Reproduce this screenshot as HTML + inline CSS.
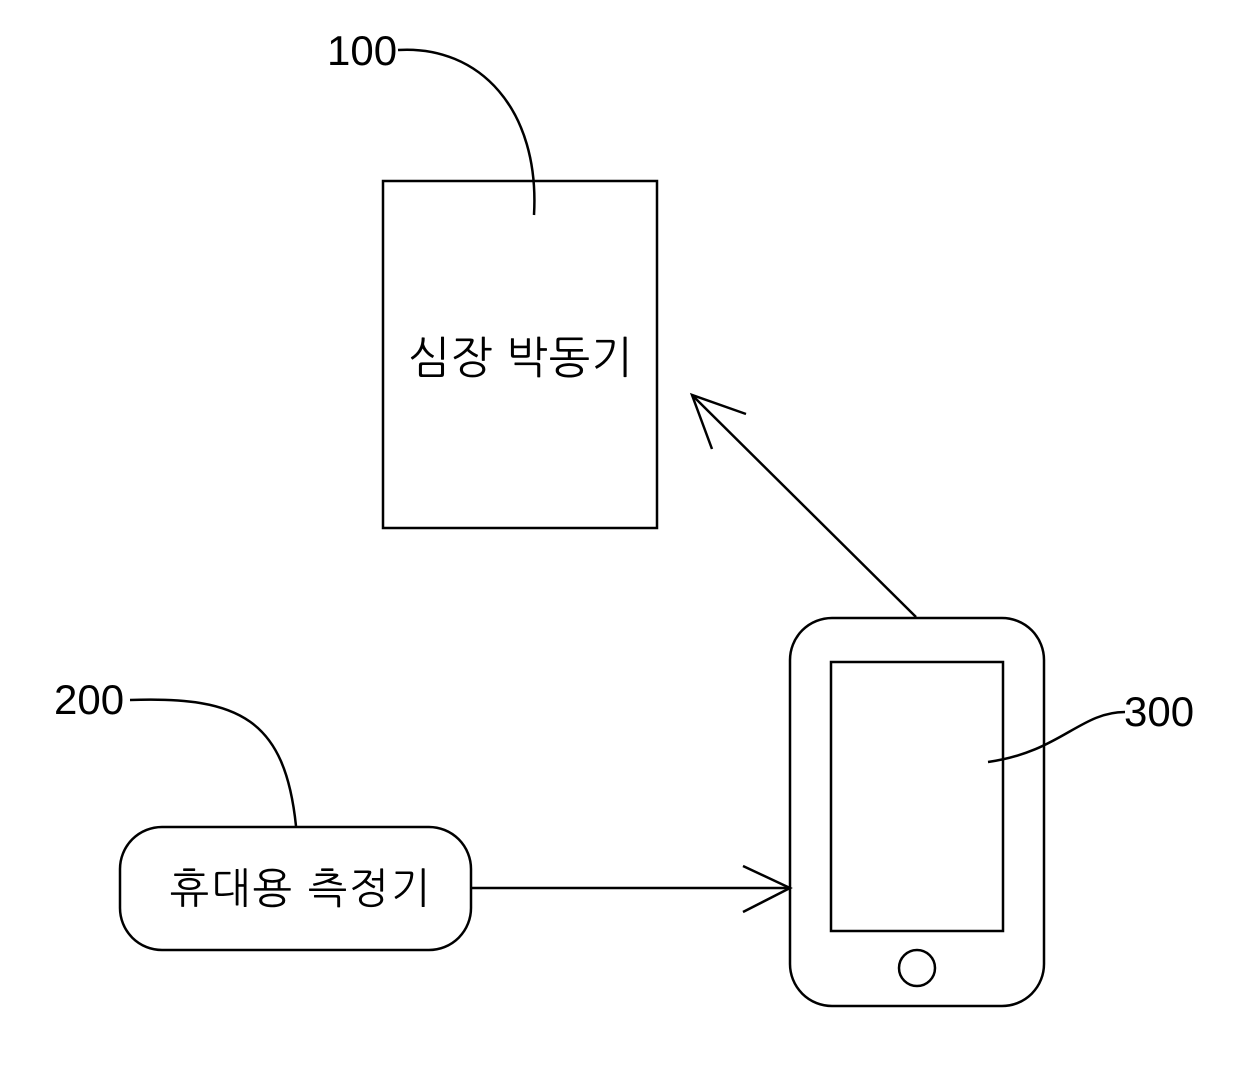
<!DOCTYPE html>
<html><head><meta charset="utf-8"><style>
html,body{margin:0;padding:0;background:#fff;}
svg{display:block;}
text{font-family:"Liberation Sans","NanumGothic","Noto Sans CJK KR",sans-serif;fill:#000;}
</style></head><body>
<svg width="1240" height="1070" viewBox="0 0 1240 1070" xmlns="http://www.w3.org/2000/svg">
<g fill="none" stroke="#000" stroke-width="2.5">
<rect x="383" y="181" width="274" height="347"/>
<path d="M398,50 C480,45 540,110 534,215"/>
<rect x="120" y="827" width="351" height="123" rx="42"/>
<path d="M130,700 C240,696 285,720 296,826"/>
<rect x="790" y="618" width="254" height="388" rx="42"/>
<rect x="831" y="662" width="172" height="269"/>
<circle cx="917" cy="968" r="18"/>
<path d="M1125,712 C1080,712 1060,752 988,762"/>
<line x1="471" y1="888" x2="790" y2="888"/>
<polyline points="743,866 790,888 743,912"/>
<line x1="916" y1="617" x2="692" y2="395"/>
<polyline points="746,414 692,395 712,449"/>
</g>
<text x="521" y="373" font-size="44" letter-spacing="1" text-anchor="middle" font-family="NanumGothic,'Noto Sans CJK KR',sans-serif">심장 박동기</text>
<text x="301" y="903" font-size="42" letter-spacing="2" text-anchor="middle" font-family="NanumGothic,'Noto Sans CJK KR',sans-serif">휴대용 측정기</text>
<text x="327" y="65" font-size="42">100</text>
<text x="54" y="714" font-size="42">200</text>
<text x="1124" y="726" font-size="42">300</text>
</svg>
</body></html>
